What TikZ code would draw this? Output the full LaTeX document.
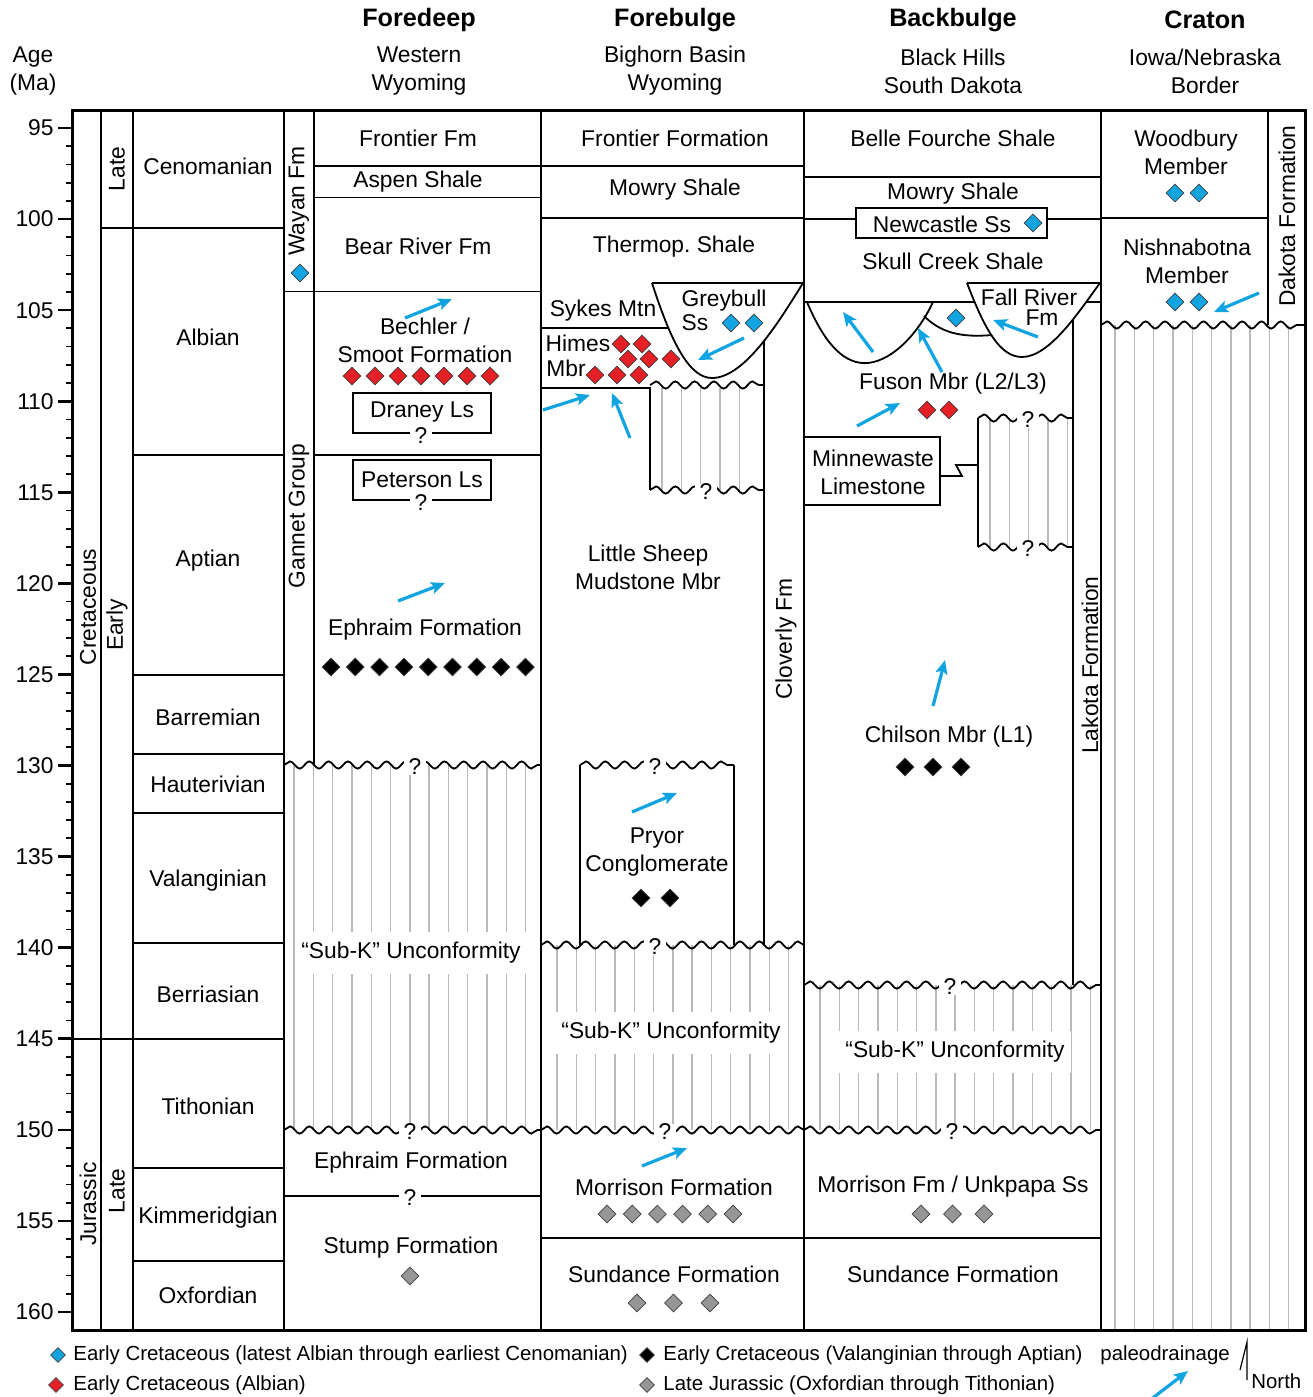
\documentclass[tikz,border=0pt]{standalone}
\usepackage{fontspec}
\setmainfont{Liberation Sans}
\usetikzlibrary{arrows.meta, positioning, shapes.geometric, decorations.pathmorphing}

\definecolor{drainblue}{RGB}{18,164,224}
\definecolor{albianred}{RGB}{226,32,38}
\definecolor{jurassicgray}{RGB}{150,150,150}
\definecolor{hatchgray}{RGB}{185,185,185}

\begin{document}
\begin{tikzpicture}[x=0.5pt, y=-0.5pt,
        % Unit labels: plain text, centred
        unit/.style={font=\fontsize{11.4}{14}\selectfont, align=center, inner sep=1pt},
        % Labels inside hatched gaps: white back so the lines break
        gaplabel/.style={unit, fill=white, inner xsep=3pt, inner ysep=5pt},
        % Column headers
        header/.style={font=\fontsize{12.6}{15}\selectfont\bfseries},
        % Rotated labels in the narrow columns
        vlabel/.style={unit, rotate=90},
        % Question mark that breaks a contact
        query/.style={font=\fontsize{11.4}{14}\selectfont, fill=white, inner xsep=2.5pt, inner ysep=0pt},
        contact/.style={line width=0.9pt},
        border/.style={line width=1.5pt},
        hatch/.style={draw=hatchgray, line width=0.7pt},
        unconf/.style={line width=0.9pt, decorate,
            decoration={snake, segment length=9.65pt, amplitude=1.8pt}},
        drain/.style={draw=drainblue, line width=1.6pt,
            -{Stealth[length=7pt, width=6pt, inset=1.5pt]}},
        gem/.style={diamond, draw=black!75, line width=0.35pt, inner sep=0pt, minimum size=9pt},
        bluegem/.style={gem, fill=drainblue},
        redgem/.style={gem, fill=albianred},
        blackgem/.style={gem, fill=black},
        graygem/.style={gem, fill=jurassicgray},
        legend/.style={font=\fontsize{10.2}{12}\selectfont, anchor=west, inner sep=0pt},
    ]

    \useasboundingbox (0,0) rectangle (1312,1397);

    % === Hatched gaps (missing section) ===
    \foreach \k in {0,...,12} \draw[hatch] (294+19.3*\k,765) -- (294+19.3*\k,1130);
    \foreach \k in {0,...,12} \draw[hatch] (557+19.3*\k,945) -- (557+19.3*\k,1130);
    \foreach \k in {0,...,14} \draw[hatch] (820+19.3*\k,985) -- (820+19.3*\k,1130);
    \foreach \k in {0,...,9} \draw[hatch] (1115+19.3*\k,325) -- (1115+19.3*\k,1330);
    \foreach \k in {0,...,4} \draw[hatch] (662+19.3*\k,388) -- (662+19.3*\k,490);
    \foreach \k in {0,...,4} \draw[hatch] (990+19.3*\k,418) -- (990+19.3*\k,547);

    % === Frame and time scale ===
    \draw[border] (72,110) rectangle (1305,1330);
    \foreach \x in {101,133,284,541,804,1101} \draw[contact] (\x,110) -- (\x,1330);
    \draw[contact] (72,1038.8) -- (284,1038.8);
    \draw[contact] (101,228) -- (284,228);
    \foreach \y in {455,675,754,813,943,1168,1261} \draw[contact] (133,\y) -- (284,\y);
    \foreach \a in {95,...,160} {
        \pgfmathsetmacro\ty{128+(\a-95)*18.215}
        \pgfmathtruncatemacro\tm{mod(\a,5)}
        \ifnum\tm=0 \draw[line width=1.3pt] (58,\ty) -- (72,\ty);
        \else \draw[line width=0.9pt] (66,\ty) -- (72,\ty); \fi
    }
    \foreach \a in {95,100,...,160} {
        \pgfmathsetmacro\ty{128+(\a-95)*18.215}
        \node[unit, anchor=east] (age\a) at (56,\ty) {\a};
    }

    % === Foredeep contacts ===
    \draw[contact] (314,110) -- (314,765);
    \draw[contact] (284,291.5) -- (541,291.5);
    \foreach \y in {166,197.5,455} \draw[contact] (314,\y) -- (541,\y);
    \draw[contact] (353,393) rectangle (491,433);
    \draw[contact] (353,460) rectangle (491,500);
    \draw[unconf] (284,765) -- (541,765);
    \draw[unconf] (284,1130) -- (541,1130);
    \draw[contact] (284,1196) -- (541,1196);

    % === Forebulge contacts ===
    \foreach \y in {166,218} \draw[contact] (541,\y) -- (804,\y);
    \draw[contact] (652,283) -- (804,283);
    \draw[contact] (652,283) .. controls (672,345) and (690,378) .. (712,378)
        .. controls (745,378) and (780,320) .. (803,283);
    \draw[contact] (541,328) -- (668,328);
    \draw[contact] (541,388) -- (650,388) -- (650,490);
    \draw[contact] (764,341) -- (764,945);
    \draw[unconf] (650,385) -- (764,385);
    \draw[unconf] (650,490) -- (764,490);
    \draw[contact] (580,945) -- (580,765);
    \draw[contact] (734,765) -- (734,945);
    \draw[unconf] (580,765) -- (734,765);
    \draw[unconf] (541,945) -- (804,945);
    \draw[unconf] (541,1130) -- (804,1130);
    \draw[contact] (541,1238) -- (1101,1238);

    % === Backbulge contacts ===
    \draw[contact] (804,177) -- (1101,177);
    \draw[contact] (804,219) -- (856,219);
    \draw[contact] (1047,219) -- (1101,219);
    \draw[contact] (856,208) rectangle (1047,238);
    \draw[contact] (804,302) -- (975,302);
    \draw[contact] (1086,302) -- (1101,302);
    \draw[contact] (807,302) .. controls (825,345) and (845,365) .. (868,363)
        .. controls (895,360) and (920,330) .. (933,302);
    \draw[contact] (924,316) .. controls (940,332) and (960,338) .. (992,335);
    \draw[contact] (967,283) -- (1101,283);
    \draw[contact] (967,283) .. controls (985,330) and (1000,357) .. (1022,357)
        .. controls (1050,357) and (1080,310) .. (1100,283);
    \draw[contact] (1073,320) -- (1073,985);
    \draw[contact] (978,418) -- (978,547);
    \draw[unconf] (978,418) -- (1073,418);
    \draw[unconf] (978,547) -- (1073,547);
    \draw[contact] (804,437) rectangle (940,505);
    \draw[contact] (940,476) -- (962,476) -- (956,465) -- (978,465);
    \draw[unconf] (804,985) -- (1101,985);
    \draw[unconf] (804,1130) -- (1101,1130);

    % === Craton contacts ===
    \draw[contact] (1268,110) -- (1268,325);
    \draw[contact] (1101,218) -- (1268,218);
    \draw[unconf] (1101,325) -- (1305,325);

    % === Headers ===
    \node[unit] (ageHead) at (33,71) {Age\\(Ma)};
    \node[header] (hFore) at (419,20) {Foredeep};
    \node[unit] (sFore) at (419,71) {Western\\Wyoming};
    \node[header] (hBulge) at (675,20) {Forebulge};
    \node[unit] (sBulge) at (675,71) {Bighorn Basin\\Wyoming};
    \node[header] (hBack) at (953,20) {Backbulge};
    \node[unit] (sBack) at (953,71) {Black Hills\\South Dakota};
    \node[header] (hCraton) at (1205,20) {Craton};
    \node[unit] (sCraton) at (1205,71) {Iowa/Nebraska\\Border};

    % === Time scale labels ===
    \node[vlabel] (cret) at (88,607) {Cretaceous};
    \node[vlabel] (jur) at (88,1204) {Jurassic};
    \node[vlabel] (lateK) at (117,169) {Late};
    \node[vlabel] (earlyK) at (117,625) {Early};
    \node[vlabel] (lateJ) at (117,1191) {Late};
    \node[unit] (cenom) at (208,166) {Cenomanian};
    \node[unit] (alb) at (208,337) {Albian};
    \node[unit] (apt) at (208,561) {Aptian};
    \node[unit] (barr) at (208,717) {Barremian};
    \node[unit] (haut) at (208,784) {Hauterivian};
    \node[unit] (val) at (208,881) {Valanginian};
    \node[unit] (berr) at (208,994) {Berriasian};
    \node[unit] (tith) at (208,1106) {Tithonian};
    \node[unit] (kimm) at (208,1218) {Kimmeridgian};
    \node[unit] (oxf) at (208,1295) {Oxfordian};

    % === Foredeep units ===
    \node[vlabel] (fdWayan) at (299,201) {Wayan Fm};
    \node[vlabel] (fdGannet) at (299,516) {Gannet Group};
    \node[unit] (fdFrontier) at (418,138) {Frontier Fm};
    \node[unit] (fdAspen) at (418,182) {Aspen Shale};
    \node[unit] (fdBear) at (418,246) {Bear River Fm};
    \node[unit] (fdBechler) at (425,340) {Bechler /\\Smoot Formation};
    \node[unit] (fdDraney) at (422,412) {Draney Ls};
    \node[query] (qDraney) at (421,436) {?};
    \node[unit] (fdPeterson) at (422,480) {Peterson Ls};
    \node[query] (qPeterson) at (421,503) {?};
    \node[unit] (fdEphraimK) at (425,630) {Ephraim Formation};
    \node[query] (qFd1) at (415,767) {?};
    \node[gaplabel] (fdSubK) at (411,953) {“Sub-K” Unconformity};
    \node[query] (qFd2) at (410,1132) {?};
    \node[unit] (fdEphraimJ) at (411,1163) {Ephraim Formation};
    \node[query] (qFd3) at (410,1198) {?};
    \node[unit] (fdStump) at (411,1248) {Stump Formation};

    % === Forebulge units ===
    \node[unit] (fbFrontier) at (675,138) {Frontier Formation};
    \node[unit] (fbMowry) at (675,190) {Mowry Shale};
    \node[unit] (fbThermop) at (674,247) {Thermop.\ Shale};
    \node[unit] (fbSykes) at (603,311) {Sykes Mtn};
    \node[unit] (fbGreybull) at (724,301) {Greybull};
    \node[unit] (fbSs) at (695,323) {Ss};
    \node[unit] (fbHimes) at (578,343) {Himes};
    \node[unit] (fbMbr) at (566,368) {Mbr};
    \node[query] (qFb0) at (706,492) {?};
    \node[unit] (fbLittle) at (648,567) {Little Sheep\\Mudstone Mbr};
    \node[vlabel] (fbCloverly) at (786,639) {Cloverly Fm};
    \node[query] (qFb1) at (655,767) {?};
    \node[unit] (fbPryor) at (657,852) {Pryor\\Conglomerate};
    \node[query] (qFb2) at (655,947) {?};
    \node[gaplabel] (fbSubK) at (671,1033) {“Sub-K” Unconformity};
    \node[query] (qFb3) at (665,1132) {?};
    \node[unit] (fbMorrison) at (674,1187) {Morrison Formation};
    \node[unit] (fbSundance) at (674,1274) {Sundance Formation};

    % === Backbulge units ===
    \node[unit] (bbBelle) at (953,138) {Belle Fourche Shale};
    \node[unit] (bbMowry) at (953,194) {Mowry Shale};
    \node[unit] (bbNewcastle) at (942,224) {Newcastle Ss};
    \node[unit] (bbSkull) at (953,261) {Skull Creek Shale};
    \node[unit] (bbFall) at (1029,297) {Fall River};
    \node[unit] (bbFm) at (1042,318) {Fm};
    \node[unit] (bbFuson) at (953,384) {Fuson Mbr (L2/L3)};
    \node[unit] (bbMinne) at (873,472) {Minnewaste\\Limestone};
    \node[query] (qBb1) at (1028,420) {?};
    \node[query] (qBb2) at (1028,549) {?};
    \node[vlabel] (bbLakota) at (1090,665) {Lakota Formation};
    \node[unit] (bbChilson) at (949,737) {Chilson Mbr (L1)};
    \node[query] (qBb3) at (950,987) {?};
    \node[gaplabel] (bbSubK) at (955,1052) {“Sub-K” Unconformity};
    \node[query] (qBb4) at (952,1132) {?};
    \node[unit] (bbMorrison) at (953,1187) {Morrison Fm / Unkpapa Ss};
    \node[unit] (bbSundance) at (953,1274) {Sundance Formation};

    % === Craton units ===
    \node[unit] (crWood) at (1186,152) {Woodbury\\Member};
    \node[unit] (crNish) at (1187,261) {Nishnabotna\\Member};
    \node[vlabel] (crDakota) at (1287,216) {Dakota Formation};

    % === Age control (diamonds) ===
    \node[bluegem] (gWayan) at (300,273) {};
    \foreach \i in {0,...,6} \node[redgem] (gBechler\i) at (352+23*\i,376) {};
    \foreach \i in {0,...,8} \node[blackgem] (gEphraim\i) at (331+24.3*\i,667) {};
    \node[graygem] (gStump) at (410,1276) {};
    \node[bluegem] (gGrey1) at (731,323) {};
    \node[bluegem] (gGrey2) at (754,323) {};
    \node[redgem] (gHimes1) at (621,344) {};
    \node[redgem] (gHimes2) at (642,344) {};
    \node[redgem] (gHimes3) at (628,359) {};
    \node[redgem] (gHimes4) at (649,359) {};
    \node[redgem] (gHimes5) at (671,359) {};
    \node[redgem] (gHimes6) at (595,375) {};
    \node[redgem] (gHimes7) at (617,375) {};
    \node[redgem] (gHimes8) at (639,375) {};
    \node[blackgem] (gPryor1) at (641,898) {};
    \node[blackgem] (gPryor2) at (670,898) {};
    \foreach \i in {0,...,5} \node[graygem] (gMorr\i) at (607+25.2*\i,1214) {};
    \foreach \i in {0,...,2} \node[graygem] (gSund\i) at (637+36.5*\i,1303) {};
    \node[bluegem] (gNewcastle) at (1033,223) {};
    \node[bluegem] (gFall) at (956,318) {};
    \node[redgem] (gFuson1) at (927,410) {};
    \node[redgem] (gFuson2) at (949,410) {};
    \foreach \i in {0,...,2} \node[blackgem] (gChilson\i) at (905+28*\i,767) {};
    \foreach \i in {0,...,2} \node[graygem] (gUnk\i) at (921+31.5*\i,1214) {};
    \node[bluegem] (gWood1) at (1175,193) {};
    \node[bluegem] (gWood2) at (1199,193) {};
    \node[bluegem] (gNish1) at (1175,302) {};
    \node[bluegem] (gNish2) at (1199,302) {};

    % === Paleodrainage ===
    \draw[drain] (405,318) -- (452,299);
    \draw[drain] (398,601) -- (445,583);
    \draw[drain] (744,338) -- (698,360);
    \draw[drain] (543,410) -- (590,395);
    \draw[drain] (630,438) -- (612,393);
    \draw[drain] (632,812) -- (677,793);
    \draw[drain] (642,1166) -- (687,1148);
    \draw[drain] (873,352) -- (843,312);
    \draw[drain] (942,372) -- (918,328);
    \draw[drain] (1038,337) -- (993,320);
    \draw[drain] (857,426) -- (900,403);
    \draw[drain] (933,706) -- (945,660);
    \draw[drain] (1259,293) -- (1214,312);

    % === Legend ===
    \node[bluegem, minimum size=7.5pt] (kBlue) at (58,1355) {};
    \node[legend] (tBlue) at (73,1355) {Early Cretaceous (latest Albian through earliest Cenomanian)};
    \node[blackgem, minimum size=7.5pt] (kBlack) at (647,1355) {};
    \node[legend] (tBlack) at (663,1355) {Early Cretaceous (Valanginian through Aptian)};
    \node[redgem, minimum size=7.5pt] (kRed) at (56,1385) {};
    \node[legend] (tRed) at (73,1385) {Early Cretaceous (Albian)};
    \node[graygem, minimum size=7.5pt] (kGray) at (647,1385) {};
    \node[legend] (tGray) at (663,1385) {Late Jurassic (Oxfordian through Tithonian)};
    \node[legend] (tDrain) at (1100,1355) {paleodrainage};
    \draw[drain] (1150,1400) -- (1188,1371);
    \draw[line width=0.6pt] (1247,1380) -- (1247,1342) -- (1240,1370);
    \node[legend] (tNorth) at (1251,1381) {North};

\end{tikzpicture}
\end{document}
